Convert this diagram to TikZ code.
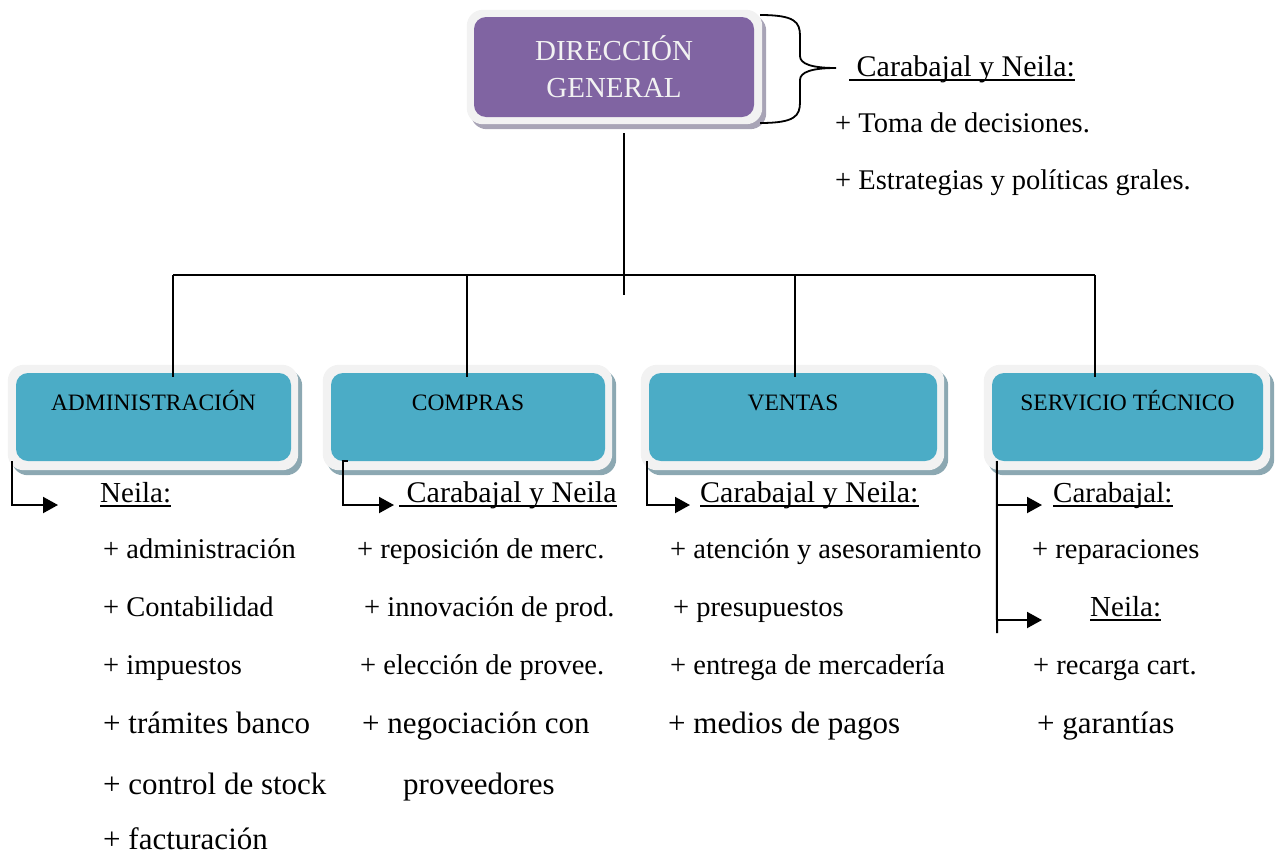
\documentclass[tikz,border=0pt]{standalone}
\usepackage{fontspec}
\setmainfont{Liberation Serif}
\usetikzlibrary{arrows.meta,calc}
\pgfdeclarelayer{bg}
\pgfsetlayers{bg,main}
\definecolor{purp}{HTML}{8064A2}
\definecolor{cyanb}{HTML}{4BACC6}
\definecolor{framec}{HTML}{F2F2F2}
\definecolor{shadc}{RGB}{140,168,178}
\definecolor{shadp}{RGB}{168,164,182}
\newcommand\szA{\fontsize{28.5}{34}\selectfont}
\newcommand\szB{\fontsize{31}{37}\selectfont}
\newcommand\szH{\fontsize{30}{36}\selectfont}
\newcommand\szK{\fontsize{29}{35}\selectfont}
\newcommand\szBox{\fontsize{23.5}{28}\selectfont}
\newcommand\szTop{\fontsize{29}{37}\selectfont}
\begin{document}
\begin{tikzpicture}[x=1pt,y=-1pt,
  dept/.style={rectangle, rounded corners=12pt, fill=cyanb, inner xsep=0pt, inner ysep=0pt,
     minimum width=#1, text height=37pt, text depth=51pt, font=\szBox, anchor=base},
  topbox/.style={rectangle, rounded corners=12pt, fill=purp, text=framec, inner sep=0pt,
     minimum width=280pt, minimum height=100pt, align=center, font=\szTop},
  txt/.style={anchor=base west, inner sep=0pt, font=\szA},
  big/.style={txt, font=\szB},
  org/.style={line width=1.8pt, black},
  arr/.style={line width=2pt, black, -{Triangle[length=15pt,width=16pt]}},
  ulc/.style={line width=1.6pt, black}]
\useasboundingbox (0,0) rectangle (1276,857);

% top box
\node[topbox] (dg) at (614,67) {DIRECCIÓN\\GENERAL};
% department boxes
\node[dept=275pt] (adm) at (153.5,410) {ADMINISTRACIÓN};
\node[dept=274pt] (com) at (468,410) {COMPRAS};
\node[dept=288pt] (ven) at (793,410) {VENTAS};
\node[dept=271pt] (ser) at (1127.5,410) {SERVICIO TÉCNICO};

\begin{pgfonlayer}{bg}
  \fill[shadp, rounded corners=16pt] ($(dg.north west)+(-3,-2)$) rectangle ($(dg.south east)+(12,12)$);
  \fill[framec, rounded corners=16pt] ($(dg.north west)+(-7,-7)$) rectangle ($(dg.south east)+(8,7)$);
  \foreach \n in {adm,com,ven,ser}{
    \fill[shadc, rounded corners=16pt] ($(\n.north west)+(-4,-3)$) rectangle ($(\n.south east)+(11,14)$);
    \fill[framec, rounded corners=16pt] ($(\n.north west)+(-8,-8)$) rectangle ($(\n.south east)+(7,9)$);
  }
\end{pgfonlayer}

% brace
\coordinate (brT) at (760,15);
\coordinate (brB) at (760,123);
\coordinate (brP) at (836,68);
\draw[line width=1.8pt] (brT) .. controls (795,15) and (800,22) .. (800,36) -- (800,56)
  .. controls (800,64) and (812,68) .. (brP)
  .. controls (812,68) and (800,72) .. (800,80) -- (800,102)
  .. controls (800,116) and (795,123) .. (brB);

% org connectors
\coordinate (hub) at (624,275);
\coordinate (hubend) at (624,295);
\coordinate (ja) at (173,275);
\coordinate (jb) at (467,275);
\coordinate (jc) at (795,275);
\coordinate (jd) at (1095,275);
\draw[org] ([yshift=-16pt]dg.south -| hub) -- (hubend);
\draw[org] (ja) -- (jd);
\draw[org] (ja) -- ([yshift=-4pt]ja |- adm.north);
\draw[org] (jb) -- ([yshift=-4pt]jb |- com.north);
\draw[org] (jc) -- ([yshift=-4pt]jc |- ven.north);
\draw[org] (jd) -- ([yshift=-4pt]jd |- ser.north);

% elbow arrows
\coordinate (aa) at (58,505);
\coordinate (ca) at (394,505);
\coordinate (va) at (690,505);
\coordinate (sb) at (997,633);
\coordinate (s1) at (1042,505);
\coordinate (s2) at (1042,620);
\draw[arr] ([xshift=-4pt]adm.south west) |- (aa);
\draw[arr] ([xshift=17pt]com.south west) -- ++(-5,0) |- (ca);
\draw[arr] ([xshift=-2pt]ven.south west) |- (va);
\draw[line width=2pt] ([xshift=5pt]ser.south west) -- (sb);
\draw[arr] (s1 -| sb) -- (s1);
\draw[arr] (s2 -| sb) -- (s2);

% top-right texts
\node[txt, font=\szH] (h0) at (849,76) {\ Carabajal y Neila:};
\node[txt] (r1) at (835,132) {+ Toma de decisiones.};
\node[txt] (r2) at (835,189) {+ Estrategias y políticas grales.};

% headings
\node[txt, font=\szK] (h1) at (100,502) {Neila:};
\node[txt, font=\szH] (h2) at (399,502) {\ Carabajal y Neila};
\node[txt, font=\szH] (h3) at (700,502) {Carabajal y Neila:\ };
\node[txt, font=\szK] (h4) at (1053,502) {Carabajal:};
\node[txt, font=\szK] (h5) at (1090,616) {Neila:};
\foreach \h in {h0,h1,h2,h3,h4,h5}{
  \draw[ulc] ([yshift=-4pt]\h.base west) -- ([yshift=-4pt]\h.base east);
}

% column 1
\node[txt] (a1) at (103,558) {+ administración};
\node[txt] (a2) at (103,616) {+ Contabilidad};
\node[txt] (a3) at (103,674) {+ impuestos};
\node[big] (a4) at (103,733) {+ trámites banco};
\node[big] (a5) at (103,794) {+ control de stock};
\node[big] (a6) at (103,849) {+ facturación};
% column 2
\node[txt] (b1) at (357,558) {+ reposición de merc.};
\node[txt] (b2) at (364,616) {+ innovación de prod.};
\node[txt] (b3) at (360,674) {+ elección de provee.};
\node[big] (b4) at (362,733) {+ negociación con};
\node[big] (b5) at (403,794) {proveedores};
% column 3
\node[txt] (c1) at (670,558) {+ atención y asesoramiento};
\node[txt] (c2) at (673,616) {+ presupuestos};
\node[txt] (c3) at (670,674) {+ entrega de mercadería};
\node[big] (c4) at (668,733) {+ medios de pagos};
% column 4
\node[txt] (d1) at (1032,558) {+ reparaciones};
\node[txt] (d3) at (1033,674) {+ recarga cart.};
\node[big] (d4) at (1037,733) {+ garantías};
\end{tikzpicture}
\end{document}
